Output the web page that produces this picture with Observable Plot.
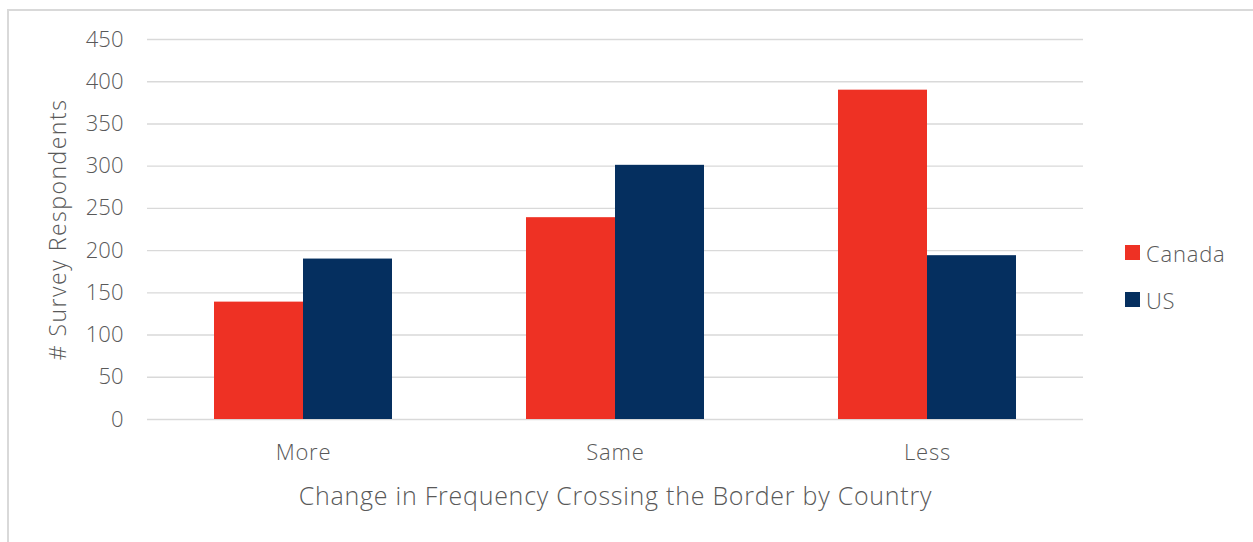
<!DOCTYPE html>
<html>
<head>
<meta charset="utf-8">
<script src="https://cdn.jsdelivr.net/npm/d3@7"></script>
<script src="https://cdn.jsdelivr.net/npm/@observablehq/plot@0.6"></script>
<style>
  html, body { margin: 0; padding: 0; background: #fff; }
  #wrap { position: relative; width: 1253px; height: 542px; overflow: hidden; font-family: "Open Sans", Lato, sans-serif; font-weight: 300; color: #595959; }
  #border { position: absolute; left: 7px; top: 9px; width: 1400px; height: 700px; border-top: 2px solid #d9d9d9; border-left: 2px solid #d9d9d9; pointer-events: none; }
  #legend { position: absolute; left: 1125px; top: 229px; font-size: 22px; letter-spacing: 0.8px; }
  .item { display: flex; align-items: center; height: 47px; }
  .sw { width: 15px; height: 15px; margin-right: 6px; }
  svg g[aria-label="y-axis label"] { font-size: 23px; letter-spacing: 1.5px; }
  svg g[aria-label="fx-axis label"] { font-size: 25px; letter-spacing: 0.75px; }
  svg g[aria-label="fx-axis tick label"] { letter-spacing: 0.8px; }
</style>
</head>
<body>
<div id="wrap"><div id="chart"></div><div id="legend"></div><div id="border"></div></div>
<script>
const categories = ["More", "Same", "Less"];
const countries = ["Canada", "US"];
const canadaValues = [139, 239, 390];
const usValues = [190, 301, 194];
const countryColors = ["#EE3124", "#052F5F"];
const yTicks = [0, 50, 100, 150, 200, 250, 300, 350, 400, 450];
const xTitle = "Change in Frequency Crossing the Border by Country";
const yTitle = "# Survey Respondents";

const rows = [];
categories.forEach((c, i) => {
  rows.push({category: c, country: countries[0], value: canadaValues[i]});
  rows.push({category: c, country: countries[1], value: usValues[i]});
});

const chart = Plot.plot({
  width: 1253,
  height: 542,
  marginLeft: 146,
  marginRight: 170,
  marginTop: 39,
  marginBottom: 123,
  style: {fontFamily: "'Open Sans', Lato, sans-serif", fontWeight: 300, color: "#595959", background: "transparent", overflow: "visible"},
  fx: {domain: categories, padding: 0},
  x: {domain: countries, paddingInner: 0, paddingOuter: 0.743, axis: null},
  y: {domain: [0, 450]},
  color: {domain: countries, range: countryColors},
  marks: [
    Plot.gridY(yTicks, {stroke: "#d9d9d9", strokeOpacity: 1, strokeWidth: 1.4}),
    Plot.axisY(yTicks, {tickSize: 0, tickPadding: 24, fontSize: 22, label: yTitle, labelAnchor: "center", labelOffset: 98, labelArrow: false}),
    Plot.axisFx({anchor: "bottom", tickSize: 0, tickPadding: 25, fontSize: 22, label: xTitle, labelAnchor: "center", labelOffset: 85, labelArrow: false}),
    Plot.barY(rows, {fx: "category", x: "country", y: "value", fill: "country"})
  ]
});
document.getElementById("chart").appendChild(chart);

const legend = document.getElementById("legend");
countries.forEach((c, i) => {
  const item = document.createElement("div");
  item.className = "item";
  const sw = document.createElement("div");
  sw.className = "sw";
  sw.style.background = countryColors[i];
  const t = document.createElement("span");
  t.textContent = c;
  item.appendChild(sw);
  item.appendChild(t);
  legend.appendChild(item);
});
</script>
</body>
</html>
